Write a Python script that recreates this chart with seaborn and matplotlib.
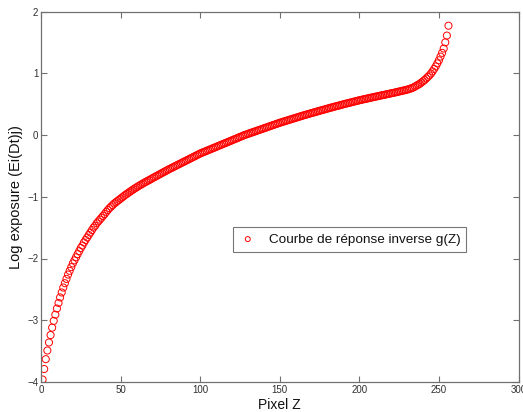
import matplotlib
matplotlib.use("Agg")
import matplotlib.pyplot as plt
import seaborn as sns
import pandas as pd

# Pixel values Z = 1..256
pixel_z = list(range(1, 257))

# Inverse response curve g(Z), log exposure
g_low = [
    -3.96, -3.79, -3.63, -3.49, -3.36, -3.24, -3.12, -3.01, -2.91, -2.81,
    -2.72, -2.63, -2.55, -2.47, -2.40, -2.33, -2.26, -2.20, -2.14, -2.08,
    -2.03, -1.98, -1.93, -1.88, -1.83, -1.79, -1.74, -1.70, -1.66, -1.62,
    -1.58, -1.54, -1.50, -1.47, -1.43, -1.40, -1.37, -1.34, -1.31, -1.28,
    -1.245, -1.215, -1.185, -1.16, -1.135, -1.11, -1.09, -1.07, -1.05, -1.03,
    -1.01, -0.99, -0.97, -0.952, -0.934, -0.916, -0.898, -0.881, -0.864, -0.848,
    -0.832, -0.816, -0.801, -0.786, -0.771, -0.757, -0.743, -0.729, -0.715, -0.70,
]
g_mid = [
    -0.686, -0.672, -0.658, -0.644, -0.630, -0.616, -0.602, -0.588, -0.574, -0.560,
    -0.547, -0.534, -0.521, -0.508, -0.495, -0.482, -0.469, -0.456, -0.443, -0.430,
    -0.417, -0.404, -0.391, -0.378, -0.365, -0.352, -0.339, -0.326, -0.313, -0.300,
    -0.289, -0.278, -0.268, -0.257, -0.246, -0.236, -0.225, -0.214, -0.204, -0.193,
    -0.182, -0.171, -0.161, -0.150, -0.139, -0.129, -0.118, -0.107, -0.096, -0.086,
    -0.075, -0.064, -0.054, -0.043, -0.032, -0.021, -0.011, 0.000, 0.009, 0.018,
    0.027, 0.036, 0.045, 0.054, 0.063, 0.072, 0.081, 0.090, 0.099, 0.108,
    0.117, 0.126, 0.135, 0.144, 0.153, 0.162, 0.171, 0.180, 0.189, 0.198,
]
g_high = [
    0.206, 0.214, 0.222, 0.230, 0.238, 0.246, 0.254, 0.262, 0.270, 0.278,
    0.286, 0.294, 0.302, 0.310, 0.318, 0.325, 0.333, 0.340, 0.348, 0.355,
    0.362, 0.370, 0.377, 0.384, 0.392, 0.399, 0.406, 0.413, 0.420, 0.428,
    0.435, 0.442, 0.449, 0.456, 0.463, 0.470, 0.476, 0.483, 0.490, 0.497,
    0.504, 0.510, 0.517, 0.523, 0.530, 0.536, 0.543, 0.549, 0.556, 0.562,
    0.568, 0.574, 0.580, 0.585, 0.591, 0.597, 0.603, 0.608, 0.614, 0.620,
    0.625, 0.631, 0.636, 0.642, 0.647, 0.653, 0.658, 0.664, 0.669, 0.675,
    0.680, 0.686, 0.692, 0.698, 0.704, 0.710, 0.716, 0.722, 0.728, 0.734,
    0.742, 0.750, 0.760, 0.770, 0.785, 0.80, 0.815, 0.83, 0.85, 0.87,
    0.89, 0.915, 0.94, 0.965, 0.995, 1.03, 1.07, 1.11, 1.16, 1.21,
    1.27, 1.33, 1.40, 1.50, 1.61, 1.77,
]
log_exposure = g_low + g_mid + g_high

x_ticks = [0, 50, 100, 150, 200, 250, 300]
y_ticks = [-4, -3, -2, -1, 0, 1, 2]
x_label = "Pixel Z"
y_label = "Log exposure (Ei(Dt)j)"
series_label = "Courbe de réponse inverse g(Z)"

df = pd.DataFrame({"Z": pixel_z, "g": log_exposure})

sns.set_theme(style="white")
plt.rcParams["font.family"] = ["Liberation Sans", "DejaVu Sans"]

fig = plt.figure(figsize=(5.23, 4.12), dpi=100)
ax = fig.add_axes([41 / 523, 30 / 412, 477.5 / 523, 370.5 / 412])

sns.scatterplot(data=df, x="Z", y="g", ax=ax, marker="o", s=26,
                linewidth=0.7, label=series_label, legend=False)
pts = ax.collections[0]
pts.set_facecolor("none")
pts.set_edgecolor("#ff0000")

ax.set_xlim(0, 300)
ax.set_ylim(-4, 2)
ax.set_xticks(x_ticks)
ax.set_yticks(y_ticks)

frame_col = "#707070"
for sp in ax.spines.values():
    sp.set_visible(True)
    sp.set_color(frame_col)
    sp.set_linewidth(0.9)
ax.tick_params(axis="both", which="major", direction="in", length=4.5,
               width=0.8, color=frame_col, labelsize=7, labelcolor="#303030",
               top=True, right=True, bottom=True, left=True, pad=2)

ax.set_xlabel(x_label, fontsize=10, color="#111111", labelpad=2)
ax.set_ylabel(y_label, fontsize=10.5, color="#111111", labelpad=3)

leg = ax.legend(loc="upper left", bbox_to_anchor=(0.402, 0.418),
                fontsize=9.7, frameon=True, fancybox=False,
                edgecolor="#555555", borderpad=0.45, handletextpad=0.9,
                handlelength=1.3, borderaxespad=0.0, markerscale=0.7)
leg.get_frame().set_linewidth(0.8)
for t in leg.get_texts():
    t.set_color("#111111")

fig.savefig("out.png", dpi=100, facecolor="white")
